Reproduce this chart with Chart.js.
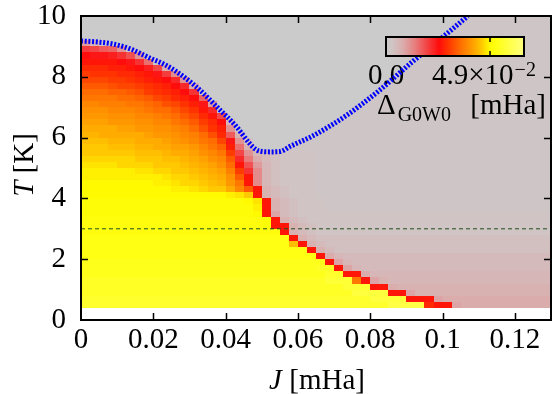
<!DOCTYPE html>
<html><head><meta charset="utf-8">
<script src="https://cdn.jsdelivr.net/npm/chart.js@4.4.0/dist/chart.umd.min.js"></script>
<style>html,body{margin:0;padding:0;background:#fff;}#wrap{width:552px;height:394px;}</style>
</head><body><div id="wrap"><canvas id="c" width="552" height="394"></canvas></div>
<script>
// Cell centres of the heat map
const J_CELLS = [0.00125,0.00375,0.00625,0.00875,0.01125,0.01375,0.01625,0.01875,0.02125,0.02375,
  0.02625,0.02875,0.03125,0.03375,0.03625,0.03875,0.04125,0.04375,0.04625,0.04875,
  0.05125,0.05375,0.05625,0.05875,0.06125,0.06375,0.06625,0.06875,0.07125,0.07375,
  0.07625,0.07875,0.08125,0.08375,0.08625,0.08875,0.09125,0.09375,0.09625,0.09875,
  0.10125,0.10375,0.10625,0.10875,0.11125,0.11375,0.11625,0.11875,0.12125,0.12375,
  0.12625,0.12875];
const T_CELLS = [9.9,9.7,9.5,9.3,9.1,8.9,8.7,8.5,8.3,8.1,7.9,7.7,7.5,7.3,7.1,6.9,6.7,6.5,6.3,6.1,
  5.9,5.7,5.5,5.3,5.1,4.9,4.7,4.5,4.3,4.1,3.9,3.7,3.5,3.3,3.1,2.9,2.7,2.5,2.3,2.1,
  1.9,1.7,1.5,1.3,1.1,0.9,0.7,0.5];
// Delta_G0W0 in units of 1e-3 mHa, one row per T_CELLS entry, one column per J_CELLS entry
const DELTA = [
[0,0,0,0,0,0,0,0,0,0, 0,0,0,0,0,0,0,0,0,0, 0,0,0,0,0,0,0,0,0,0, 0,0,0,0,0,0,0,0,0,0, 0,0,2,2,2,2,2,2,2,2, 2,2],
[0,0,0,0,0,0,0,0,0,0, 0,0,0,0,0,0,0,0,0,0, 0,0,0,0,0,0,0,0,0,0, 0,0,0,0,0,0,0,0,0,0, 0,2,2,2,2,2,2,2,2,2, 2,2],
[0,0,0,0,0,0,0,0,0,0, 0,0,0,0,0,0,0,0,0,0, 0,0,0,0,0,0,0,0,0,0, 0,0,0,0,0,0,0,0,0,0, 0,2,2,2,2,2,2,2,2,2, 2,2],
[0,0,0,0,0,0,0,0,0,0, 0,0,0,0,0,0,0,0,0,0, 0,0,0,0,0,0,0,0,0,0, 0,0,0,0,0,0,0,0,0,0, 2,2,2,2,2,2,2,2,2,2, 2,2],
[10,6,2,0,0,0,0,0,0,0, 0,0,0,0,0,0,0,0,0,0, 0,0,0,0,0,0,0,0,0,0, 0,0,0,0,0,0,0,0,0,2, 2,2,2,2,2,2,2,2,2,2, 2,2],
[20,19,17,16,11,2,0,0,0,0, 0,0,0,0,0,0,0,0,0,0, 0,0,0,0,0,0,0,0,0,0, 0,0,0,0,0,0,0,0,2,2, 2,2,2,2,2,2,2,2,2,2, 2,2],
[25,24,24,23,21,18,11,0,0,0, 0,0,0,0,0,0,0,0,0,0, 0,0,0,0,0,0,0,0,0,0, 0,0,0,0,0,0,0,2,2,2, 2,2,2,2,2,2,2,2,2,2, 2,2],
[26,26,26,26,25,24,21,15,2,0, 0,0,0,0,0,0,0,0,0,0, 0,0,0,0,0,0,0,0,0,0, 0,0,0,0,0,0,0,2,2,2, 2,2,2,2,2,2,2,2,2,2, 2,2],
[28,28,28,27,27,26,25,23,19,8, 0,0,0,0,0,0,0,0,0,0, 0,0,0,0,0,0,0,0,0,0, 0,0,0,0,0,0,2,2,2,2, 2,2,2,2,2,2,2,2,2,2, 2,2],
[30,29,29,29,28,28,27,26,24,20, 12,0,0,0,0,0,0,0,0,0, 0,0,0,0,0,0,0,0,0,0, 0,0,0,0,0,2,2,2,2,2, 2,2,2,2,2,2,2,2,2,2, 2,2],
[31,31,31,30,30,29,28,27,26,25, 22,11,0,0,0,0,0,0,0,0, 0,0,0,0,0,0,0,0,0,0, 0,0,0,0,2,2,2,2,2,2, 2,2,2,2,2,2,2,2,2,2, 2,2],
[33,33,33,32,31,31,30,29,28,27, 25,22,8,0,0,0,0,0,0,0, 0,0,0,0,0,0,0,0,0,0, 0,0,0,2,2,2,2,2,2,2, 2,2,2,2,2,2,2,2,2,2, 2,2],
[35,35,35,34,34,33,32,30,29,28, 27,25,21,0,0,0,0,0,0,0, 0,0,0,0,0,0,0,0,0,0, 0,0,0,2,2,2,2,2,2,2, 2,2,2,2,2,2,2,2,2,2, 2,2],
[36,36,36,36,35,35,34,33,31,30, 28,27,25,16,0,0,0,0,0,0, 0,0,0,0,0,0,0,0,0,0, 0,0,2,2,2,2,2,2,2,2, 2,2,2,2,2,2,2,2,2,2, 2,2],
[38,38,37,37,37,36,36,35,34,32, 31,29,27,24,10,0,0,0,0,0, 0,0,0,0,0,0,0,0,0,0, 0,2,2,2,2,2,2,2,2,2, 2,2,2,2,2,2,2,2,2,2, 2,2],
[39,39,39,38,38,38,37,36,35,35, 33,31,29,26,22,0,0,0,0,0, 0,0,0,0,0,0,0,0,0,0, 2,2,2,2,2,2,2,2,2,2, 2,2,2,2,2,2,2,2,2,2, 2,2],
[40,40,40,39,39,39,38,38,37,36, 35,33,31,28,26,19,0,0,0,0, 0,0,0,0,0,0,0,0,0,2, 2,2,2,2,2,2,2,2,2,2, 2,2,2,2,2,2,2,2,2,2, 2,2],
[41,41,41,40,40,40,39,39,38,38, 36,35,33,30,28,25,6,0,0,0, 0,0,0,0,0,0,0,0,2,2, 2,2,2,2,2,2,2,2,2,2, 2,2,2,2,2,2,2,2,2,2, 2,2],
[42,42,42,42,41,41,40,40,39,39, 38,37,35,32,29,27,11,0,0,0, 0,0,0,0,0,0,0,2,2,2, 2,2,2,2,2,2,2,2,2,2, 2,2,2,2,2,2,2,2,2,2, 2,2],
[43,43,42,42,42,42,42,41,40,40, 39,38,37,35,32,28,17,7,0,0, 0,0,0,0,0,0,2,2,2,2, 2,2,2,2,2,2,2,2,2,2, 2,2,2,2,2,2,2,2,2,2, 2,2],
[44,44,44,43,43,43,42,42,42,41, 40,39,38,36,35,31,24,11,4,0, 0,0,0,0,2,2,2,2,2,2, 2,2,2,2,2,2,2,2,2,2, 2,2,2,2,2,2,2,2,2,2, 2,2],
[45,45,45,44,44,44,43,43,42,42, 41,41,40,38,36,34,27,15,7,0, 0,0,0,2,2,2,2,2,2,2, 2,2,2,2,2,2,2,2,2,2, 2,2,2,2,2,2,2,2,2,2, 2,2],
[45,45,45,45,45,45,44,44,44,43, 42,42,41,39,38,36,30,19,11,6, 5,4,3,3,3,3,2,2,2,2, 2,2,2,2,2,2,2,2,2,2, 2,2,2,2,2,2,2,2,2,2, 2,2],
[46,46,46,46,46,46,45,45,45,44, 44,43,42,41,39,38,33,22,14,8, 5,4,3,3,3,3,2,2,2,2, 2,2,2,2,2,2,2,2,2,2, 2,2,2,2,2,2,2,2,2,2, 2,2],
[47,47,47,47,46,46,46,46,45,45, 45,44,43,42,41,39,35,26,18,10, 6,4,3,3,3,3,2,2,2,2, 2,2,2,2,2,2,2,2,2,2, 2,2,2,2,2,2,2,2,2,2, 2,2],
[48,48,48,48,48,48,47,47,46,46, 45,45,44,43,42,41,37,30,21,12, 6,4,3,3,3,3,2,2,2,2, 2,2,2,2,2,2,2,2,2,2, 2,2,2,2,2,2,2,2,2,2, 2,2],
[48,48,48,48,48,48,48,48,48,47, 46,46,45,44,43,42,39,33,26,12, 6,4,3,3,3,3,2,2,2,2, 2,2,2,2,2,2,2,2,2,2, 2,2,2,2,2,2,2,2,2,2, 2,2],
[49,49,49,49,49,49,49,49,48,48, 47,46,46,45,44,43,40,36,26,12, 6,4,3,3,3,3,2,2,2,2, 2,2,2,2,2,2,2,2,2,2, 2,2,2,2,2,2,2,2,2,2, 2,2],
[49,49,49,49,49,49,49,49,49,49, 48,48,47,46,45,45,42,38,33,26, 7,5,4,3,3,3,2,2,2,2, 2,2,2,2,2,2,2,2,2,2, 2,2,2,2,2,2,2,2,2,2, 2,2],
[49,49,49,49,49,49,49,49,49,49, 49,49,49,49,49,49,48,47,45,26, 7,5,4,3,3,3,2,2,2,2, 2,2,2,2,2,2,2,2,2,2, 2,2,2,2,2,2,2,2,2,2, 2,2],
[50,50,50,50,50,50,50,50,50,50, 50,50,50,50,50,50,50,50,49,47, 26,7,5,4,3,3,3,2,2,2, 2,2,2,2,2,2,2,2,2,2, 2,2,2,2,2,2,2,2,2,2, 2,2],
[50,50,50,50,50,50,50,50,50,50, 50,50,50,50,50,50,50,50,50,48, 26,7,5,4,3,3,3,2,2,2, 2,2,2,2,2,2,2,2,2,2, 2,2,2,2,2,2,2,2,2,2, 2,2],
[50,50,50,50,50,50,50,50,50,50, 50,50,50,50,50,50,50,50,50,49, 26,9,5,4,3,3,3,3,3,3, 3,3,3,3,3,3,3,3,3,3, 3,3,3,3,3,3,3,3,3,3, 3,3],
[51,51,51,51,51,51,51,51,51,51, 51,51,51,51,51,51,51,51,51,51, 50,26,7,5,4,3,3,3,3,3, 3,3,3,3,3,3,3,3,3,3, 3,3,3,3,3,3,3,3,3,3, 3,3],
[51,51,51,51,51,51,51,51,51,51, 51,51,51,51,51,51,51,51,51,51, 50,26,26,7,5,4,3,3,3,3, 3,3,3,3,3,3,3,3,3,3, 3,3,3,3,3,3,3,3,3,3, 3,3],
[51,51,51,51,51,51,51,51,51,51, 51,51,51,51,51,51,51,51,51,51, 51,51,26,7,5,4,3,3,3,3, 3,3,3,3,3,3,3,3,3,3, 3,3,3,3,3,3,3,3,3,3, 3,3],
[52,52,52,52,52,52,52,52,52,52, 52,52,52,52,52,52,52,52,52,52, 52,52,52,26,7,5,4,4,4,4, 4,4,4,4,4,4,4,4,4,4, 4,4,4,4,4,4,4,4,4,4, 4,4],
[52,52,52,52,52,52,52,52,52,52, 52,52,52,52,52,52,52,52,52,52, 52,52,52,44,26,7,5,4,4,4, 4,4,4,4,4,4,4,4,4,4, 4,4,4,4,4,4,4,4,4,4, 4,4],
[52,52,52,52,52,52,52,52,52,52, 52,52,52,52,52,52,52,52,52,52, 52,52,52,52,52,26,7,5,4,4, 4,4,4,4,4,4,4,4,4,4, 4,4,4,4,4,4,4,4,4,4, 4,4],
[52,52,52,52,52,52,52,52,52,52, 52,52,52,52,52,52,52,52,52,52, 52,52,52,52,52,52,26,8,6,5, 5,5,5,5,5,5,5,5,5,5, 5,5,5,5,5,5,5,5,5,5, 5,5],
[53,53,53,53,53,53,53,53,53,53, 53,53,53,53,53,53,53,53,53,53, 53,53,53,53,53,53,53,26,9,6, 5,5,5,5,5,5,5,5,5,5, 5,5,5,5,5,5,5,5,5,5, 5,5],
[53,53,53,53,53,53,53,53,53,53, 53,53,53,53,53,53,53,53,53,53, 53,53,53,53,53,53,54,54,26,9, 6,5,5,5,5,5,5,5,5,5, 5,5,5,5,5,5,5,5,5,5, 5,5],
[53,53,53,53,53,53,53,53,53,53, 53,53,53,53,53,53,53,53,53,53, 53,53,53,53,53,53,53,55,55,26, 26,8,6,6,6,6,6,6,6,6, 6,6,6,6,6,6,6,6,6,6, 6,6],
[54,54,54,54,54,54,54,54,54,54, 54,54,54,54,54,54,54,54,54,54, 54,54,54,54,54,54,54,56,56,56, 36,26,9,7,6,6,6,6,6,6, 6,6,6,6,6,6,6,6,6,6, 6,6],
[54,54,54,54,54,54,54,54,54,54, 54,54,54,54,54,54,54,54,54,54, 54,54,54,54,54,54,54,54,54,56, 56,56,26,26,8,7,7,7,7,7, 7,7,7,7,7,7,7,7,7,7, 7,7],
[54,54,54,54,54,54,54,54,54,54, 54,54,54,54,54,54,54,54,54,54, 54,54,54,54,54,54,54,54,54,54, 57,57,57,57,26,26,9,7,7,7, 7,7,7,7,7,7,7,7,7,7, 7,7],
[55,55,55,55,55,55,55,55,55,55, 55,55,55,55,55,55,55,55,55,55, 55,55,55,55,55,55,55,55,55,55, 55,55,57,57,57,57,26,26,26,9, 8,8,8,8,8,8,8,8,8,8, 8,8],
[55,55,55,55,55,55,55,55,55,55, 55,55,55,55,55,55,55,55,55,55, 55,55,55,55,55,55,55,55,55,55, 55,55,55,55,58,58,58,58,28,26, 26,9,8,8,8,8,8,8,8,8, 8,8]
];
// Blue dotted boundary
const BLUE_J = [0,0.005,0.0092,0.014,0.019,0.0235,0.0282,0.033,0.0375,0.043,0.0466,0.0485,0.0503,0.0525,0.055,0.058,0.064,0.0733,0.0825,0.0917,0.101,0.107];
const BLUE_T = [9.18,9.14,9.07,8.9,8.62,8.38,8.02,7.55,7.02,6.36,5.81,5.6,5.54,5.53,5.54,5.72,6.05,6.72,7.55,8.5,9.4,10];
// Horizontal dashed reference line
const REF_J = [0,0.13];
const REF_T = [3,3];
const X_TICKS = [0,0.02,0.04,0.06,0.08,0.1,0.12];
const X_TICK_LABELS = ['0','0.02','0.04','0.06','0.08','0.1','0.12'];
const Y_TICKS = [0,2,4,6,8,10];
const Y_TICK_LABELS = ['0','2','4','6','8','10'];
const CB_RANGE = [0,65];
const CB_TICK = 49;
const CB_LABELS = ['0.0','4.9×10','−2'];

const FONT = '"Liberation Serif", "Times New Roman", serif';
const CMAP = [[0,[203,203,203]],[3,[208,196,196]],[8,[218,172,172]],[14,[232,122,122]],[20,[245,60,60]],[25,[255,12,12]],
  [29,[255,50,0]],[33,[255,90,0]],[36,[255,118,0]],[40,[255,152,0]],[43,[255,180,0]],[45,[255,200,0]],[47,[255,228,0]],
  [49,[255,250,0]],[52,[255,255,20]],[55,[255,255,45]],[58,[255,255,70]],[65,[255,255,128]]];
function colorFor(v){
  if (v<=CMAP[0][0]) return 'rgb('+CMAP[0][1].join(',')+')';
  for (let i=1;i<CMAP.length;i++){
    if (v<=CMAP[i][0]){
      const [v0,c0]=CMAP[i-1],[v1,c1]=CMAP[i];
      const f=(v-v0)/(v1-v0);
      return 'rgb('+c0.map((c,k)=>Math.round(c+(c1[k]-c)*f)).join(',')+')';
    }
  }
  return 'rgb('+CMAP[CMAP.length-1][1].join(',')+')';
}
function edges(c){
  const e=[c[0]-(c[1]-c[0])/2];
  for(let i=0;i<c.length-1;i++) e.push((c[i]+c[i+1])/2);
  e.push(c[c.length-1]+(c[c.length-1]-c[c.length-2])/2);
  return e;
}

const bgPlugin = { id:'bg', beforeDraw(chart){ const c=chart.ctx; c.save(); c.fillStyle='#fff'; c.fillRect(0,0,chart.width,chart.height); c.restore(); } };

const heatmapPlugin = {
  id:'heatmap',
  beforeDatasetsDraw(chart){
    const {ctx, chartArea:a, scales:{x,y}} = chart;
    ctx.save();
    ctx.beginPath(); ctx.rect(a.left,a.top,a.right-a.left,a.bottom-a.top); ctx.clip();
    const je=edges(J_CELLS), te=edges(T_CELLS);
    for(let r=0;r<T_CELLS.length;r++){
      const y0=Math.round(y.getPixelForValue(te[r])), y1=Math.round(y.getPixelForValue(te[r+1]));
      for(let c=0;c<J_CELLS.length;c++){
        const x0=Math.round(x.getPixelForValue(je[c])), x1=Math.round(x.getPixelForValue(je[c+1]));
        ctx.fillStyle=colorFor(DELTA[r][c]);
        ctx.fillRect(Math.min(x0,x1),Math.min(y0,y1),Math.abs(x1-x0),Math.abs(y1-y0));
      }
    }
    ctx.restore();
    // colour bar labels (drawn under the blue line)
    ctx.save();
    ctx.fillStyle='#000';
    ctx.textBaseline='alphabetic';
    ctx.font='29px '+FONT;
    ctx.textAlign='center';
    ctx.fillText(CB_LABELS[0],386,84);
    ctx.textAlign='left';
    ctx.fillText(CB_LABELS[1],432,84);
    const w1=ctx.measureText(CB_LABELS[1]).width;
    ctx.font='20px '+FONT;
    ctx.fillText(CB_LABELS[2],432+w1+1,76);
    ctx.font='29px '+FONT;
    ctx.fillText('Δ',377,114);
    const wd=ctx.measureText('Δ').width;
    ctx.font='20px '+FONT;
    ctx.fillText('G0W0',377+wd+2,121);
    ctx.font='29px '+FONT;
    ctx.textAlign='right';
    ctx.fillText('[mHa]',546,114);
    ctx.restore();
  }
};

const overlayPlugin = {
  id:'overlay',
  afterDatasetsDraw(chart){
    const {ctx, chartArea:a, scales:{x,y}} = chart;
    ctx.save();
    // colour bar
    const bx=386,by=37,bw=138,bh=19;
    for(let p=0;p<bw;p++){
      const v=CB_RANGE[0]+(p+0.5)/bw*(CB_RANGE[1]-CB_RANGE[0]);
      ctx.fillStyle=colorFor(v);
      ctx.fillRect(bx+p,by,1,bh);
    }
    ctx.strokeStyle='#000'; ctx.lineWidth=2;
    ctx.strokeRect(bx,by,bw,bh);
    const tx=bx+(CB_TICK-CB_RANGE[0])/(CB_RANGE[1]-CB_RANGE[0])*bw;
    ctx.lineWidth=1.5;
    ctx.beginPath();
    ctx.moveTo(tx,by); ctx.lineTo(tx,by+5);
    ctx.moveTo(tx,by+bh); ctx.lineTo(tx,by+bh-5);
    ctx.stroke();
    // frame
    ctx.lineWidth=2;
    ctx.strokeRect(a.left,a.top,a.right-a.left,a.bottom-a.top);
    // inner ticks
    ctx.lineWidth=1.5;
    ctx.beginPath();
    X_TICKS.forEach(v=>{ if(v<=0) return; const px=Math.round(x.getPixelForValue(v))+0.5;
      ctx.moveTo(px,a.bottom); ctx.lineTo(px,a.bottom-7);
      ctx.moveTo(px,a.top); ctx.lineTo(px,a.top+7); });
    Y_TICKS.forEach(v=>{ if(v<=0||v>=10) return; const py=Math.round(y.getPixelForValue(v))+0.5;
      ctx.moveTo(a.left,py); ctx.lineTo(a.left+7,py);
      ctx.moveTo(a.right,py); ctx.lineTo(a.right-7,py); });
    ctx.stroke();
    ctx.restore();
  },
  afterDraw(chart){
    const ctx=chart.ctx;
    ctx.save();
    ctx.fillStyle='#000';
    ctx.textBaseline='alphabetic';
    ctx.textAlign='left';
    // x title
    ctx.font='italic 29px '+FONT; const wJ=ctx.measureText('J').width;
    ctx.font='29px '+FONT; const wR=ctx.measureText(' [mHa]').width;
    let sx=317-(wJ+wR)/2;
    ctx.font='italic 29px '+FONT; ctx.fillText('J',sx,389);
    ctx.font='29px '+FONT; ctx.fillText(' [mHa]',sx+wJ,389);
    // y title
    ctx.translate(33,165); ctx.rotate(-Math.PI/2);
    ctx.font='italic 29px '+FONT; const wT=ctx.measureText('T').width;
    ctx.font='29px '+FONT; const wK=ctx.measureText(' [K]').width;
    sx=-(wT+wK)/2;
    ctx.font='italic 29px '+FONT; ctx.fillText('T',sx,0);
    ctx.font='29px '+FONT; ctx.fillText(' [K]',sx+wT,0);
    ctx.restore();
  }
};

new Chart(document.getElementById('c'), {
  type:'scatter',
  data:{ datasets:[
    { data:BLUE_J.map((j,i)=>({x:j,y:BLUE_T[i]})), showLine:true, borderColor:'#0000ff', borderWidth:5,
      borderDash:[2,1.7], borderCapStyle:'butt', pointRadius:0, cubicInterpolationMode:'monotone', fill:false },
    { data:REF_J.map((j,i)=>({x:j,y:REF_T[i]})), showLine:true, borderColor:'#1f4f1f', borderWidth:1,
      borderDash:[4,3], pointRadius:0, fill:false }
  ]},
  options:{
    responsive:false, animation:false, devicePixelRatio:1,
    layout:{ padding:{ top:16, right:1, left:0, bottom:0 } },
    plugins:{ legend:{display:false}, tooltip:{enabled:false} },
    scales:{
      x:{ type:'linear', min:0, max:0.13,
        grid:{display:false, drawTicks:false}, border:{display:false},
        afterBuildTicks(s){ s.ticks = X_TICKS.map(v=>({value:v})); },
        afterFit(s){ s.height=74; s.paddingLeft=0; s.paddingRight=0; },
        ticks:{ autoSkip:false, maxRotation:0, padding:6, color:'#000',
          font:{family:FONT,size:29,lineHeight:1.0},
          callback:(v,i)=>X_TICK_LABELS[i] } },
      y:{ type:'linear', min:0, max:10,
        grid:{display:false, drawTicks:false}, border:{display:false},
        afterBuildTicks(s){ s.ticks = Y_TICKS.map(v=>({value:v})); },
        afterFit(s){ s.width=81; s.paddingTop=0; s.paddingBottom=0; },
        ticks:{ autoSkip:false, padding:15, color:'#000',
          font:{family:FONT,size:29,lineHeight:1.0},
          callback:(v,i)=>Y_TICK_LABELS[i] } }
    }
  },
  plugins:[bgPlugin, heatmapPlugin, overlayPlugin]
});
</script></body></html>
